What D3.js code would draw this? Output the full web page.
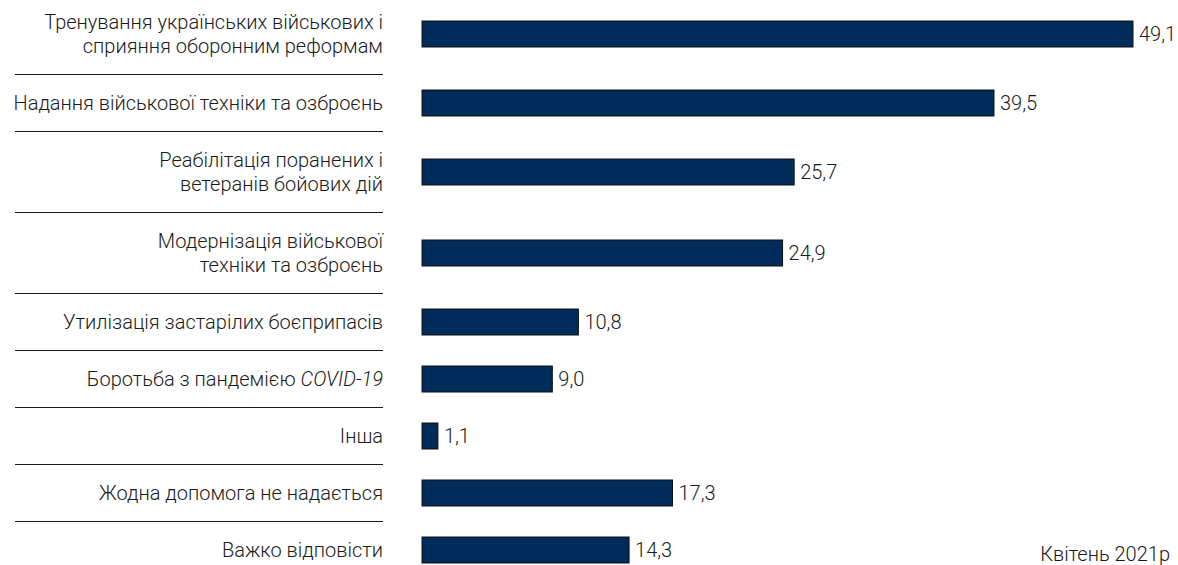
<!DOCTYPE html>
<html><head><meta charset="utf-8">
<script src="https://cdn.jsdelivr.net/npm/d3@7"></script>
<style>body{margin:0;background:#fff}svg{display:block}text{font-family:Roboto,sans-serif;fill:#1a1a1a;font-weight:300}</style>
</head><body><svg id="c" width="1178" height="565"></svg>
<script>
const categories = [
  ["Тренування українських військових і","сприяння оборонним реформам"],
  ["Надання військової техніки та озброєнь"],
  ["Реабілітація поранених і","ветеранів бойових дій"],
  ["Модернізація військової","техніки та озброєнь"],
  ["Утилізація застарілих боєприпасів"],
  ["Боротьба з пандемією |COVID-19"],
  ["Інша"],
  ["Жодна допомога не надається"],
  ["Важко відповісти"]
];
const values = [49.1, 39.5, 25.7, 24.9, 10.8, 9.0, 1.1, 17.3, 14.3];
const note = "Квітень 2021р";

const svg = d3.select("#c");
const x = d3.scaleLinear().domain([0, 49.1]).range([422, 1133]);
const fmt = v => d3.format(".1f")(v).replace(".", ",");
const FS = 20;

// row layout: height depends on label line count
let acc = -7; const starts = [], ends = [];
categories.forEach(c => { starts.push(acc); acc += 57 + 24*(c.length-1); ends.push(acc); });
const yc = d3.scaleOrdinal().domain(d3.range(values.length)).range(starts.map((s,i)=>(s+ends[i])/2 + 0.5));
const barH = 26;

const g = svg.selectAll("g.row").data(values).join("g").attr("class","row");
g.append("rect")
  .attr("x", x(0)).attr("y", (d,i)=>yc(i)-barH/2)
  .attr("width", d=>x(d)-x(0)).attr("height", barH)
  .attr("fill","#002c5b").attr("stroke","#111").attr("stroke-width",1);
g.append("text")
  .attr("x", d=>x(d)+6).attr("y",(d,i)=>yc(i)).attr("dy","0.35em")
  .attr("font-size",FS).text(d=>fmt(d));
g.each(function(d,i){
  const lines = categories[i];
  const t = d3.select(this).append("text").attr("text-anchor","end").attr("font-size",FS)
    .attr("x",383).attr("y", yc(i) - (lines.length-1)*12);
  lines.forEach((ln,k)=>{
    const ts = t.append("tspan").attr("x",383).attr("dy", k===0?"0.35em":24);
    const parts = ln.split("|");
    if(parts.length>1){ ts.text(parts[0]); t.append("tspan").attr("font-style","italic").text(parts[1]); }
    else ts.text(ln);
  });
  if(i < values.length-1){
    d3.select(this).append("line").attr("x1",15).attr("x2",383)
      .attr("y1",ends[i]+0.5).attr("y2",ends[i]+0.5).attr("stroke","#1a1a1a").attr("stroke-width",1);
  }
});
svg.append("text").attr("x",1170).attr("y",561).attr("text-anchor","end").attr("font-size",FS).text(note);
</script></body></html>
